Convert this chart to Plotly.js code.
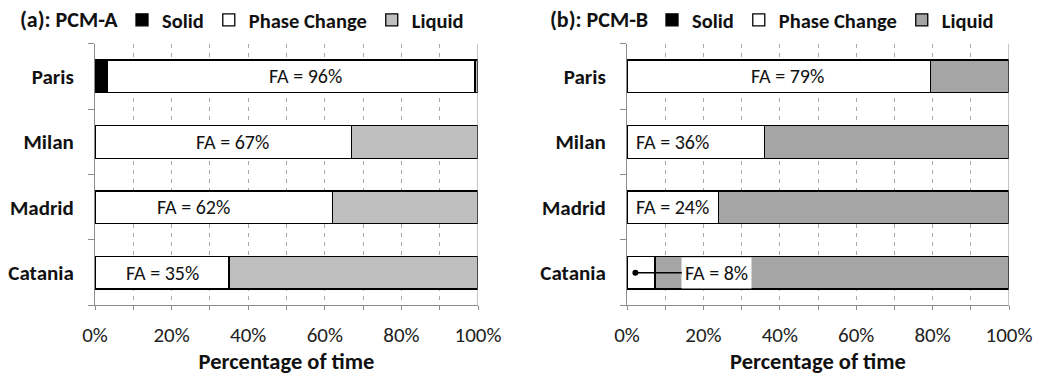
<!DOCTYPE html>
<html><head><meta charset="utf-8">
<script src="https://cdn.plot.ly/plotly-3.0.1.min.js"></script>
<style>html,body{margin:0;padding:0;background:#fff}#chart{width:1040px;height:375px}</style>
</head><body><div id="chart"></div>
<script>
// ---- data ----
const cities = ['Paris', 'Milan', 'Madrid', 'Catania'];
const seriesNames = ['Solid', 'Phase Change', 'Liquid'];
const aSolid  = [3.3, 0, 0, 0];
const aPhase  = [95.9, 67, 62, 35];
const aLiquid = [0.8, 33, 38, 65];
const bSolid  = [0, 0, 0, 0];
const bPhase  = [79.5, 36, 24, 7.3];
const bLiquid = [20.5, 64, 76, 92.7];
const aFA = [96, 67, 62, 35];
const bFA = [79, 36, 24, 8];
const panelTitles = ['(a): PCM-A', '(b): PCM-B'];
const xTitle = 'Percentage of time';

// ---- style ----
const FONT = 'Carlito, Lato, "Liberation Sans", sans-serif';
const colsA = ['#000000', '#ffffff', '#bfbfbf'];
const colsB = ['#000000', '#ffffff', '#a5a5a5'];
const axisGray = '#8c8c8c';

function mk(vals, name, color, xa, ya, leg) {
  return {
    type: 'bar', orientation: 'h', y: cities, x: vals, name: name,
    xaxis: xa, yaxis: ya, legend: leg, width: 0.5,
    marker: {color: color, line: {color: '#000', width: 1.3}},
    hoverinfo: 'skip'
  };
}
const traces = [
  mk(aSolid, seriesNames[0], colsA[0], 'x', 'y', 'legend'),
  mk(aPhase, seriesNames[1], colsA[1], 'x', 'y', 'legend'),
  mk(aLiquid, seriesNames[2], colsA[2], 'x', 'y', 'legend'),
  mk(bSolid, seriesNames[0], colsB[0], 'x2', 'y2', 'legend2'),
  mk(bPhase, seriesNames[1], colsB[1], 'x2', 'y2', 'legend2'),
  mk(bLiquid, seriesNames[2], colsB[2], 'x2', 'y2', 'legend2')
];

const yDom = [0.1867, 0.888];
function xax(dom, anchor) {
  return {
    domain: dom, anchor: anchor, range: [0, 100], dtick: 20, tick0: 0,
    ticksuffix: '%', ticks: 'outside', ticklen: 4, tickcolor: axisGray,
    showline: true, linecolor: axisGray, linewidth: 1, zeroline: false,
    showgrid: true, gridcolor: '#a6a6a6', griddash: '4px,5px', gridwidth: 1,
    minor: {dtick: 10, tick0: 0, ticks: 'outside', ticklen: 4, tickcolor: axisGray,
            showgrid: true, gridcolor: '#a6a6a6', griddash: '4px,5px', gridwidth: 1},
    tickfont: {family: FONT, size: 21, color: '#222'},
    ticklabelstandoff: 6,
    title: {text: xTitle, font: {family: FONT, size: 22.5, color: '#111', weight: 'bold'}, standoff: 10},
    automargin: false, fixedrange: true
  };
}
function yax(anchor) {
  return {
    domain: yDom, anchor: anchor, type: 'category',
    categoryorder: 'array', categoryarray: cities.slice().reverse(),
    tickson: 'boundaries', ticks: 'outside', ticklen: 6, tickcolor: axisGray,
    showline: true, linecolor: axisGray, linewidth: 1, showgrid: false,
    tickfont: {family: FONT, size: 21, color: '#111', weight: 'bold'},
    ticklabelstandoff: 16, automargin: false, fixedrange: true
  };
}

function faNote(xref, yref, city, val, xpos) {
  return {xref: xref, yref: yref, x: xpos, y: city, text: 'FA = ' + val + '%',
          showarrow: false, font: {family: FONT, size: 20, color: '#111'}};
}
const annotations = [
  {xref: 'paper', yref: 'paper', x: 18/1040, y: 1 - 18/375, xanchor: 'left', yanchor: 'middle',
   text: panelTitles[0], showarrow: false, font: {family: FONT, size: 22, color: '#111', weight: 'bold'}},
  {xref: 'paper', yref: 'paper', x: 548/1040, y: 1 - 18/375, xanchor: 'left', yanchor: 'middle',
   text: panelTitles[1], showarrow: false, font: {family: FONT, size: 22, color: '#111', weight: 'bold'}},
  faNote('x', 'y', cities[0], aFA[0], 55),
  faNote('x', 'y', cities[1], aFA[1], 36),
  faNote('x', 'y', cities[2], aFA[2], 25.6),
  faNote('x', 'y', cities[3], aFA[3], 17.5),
  faNote('x2', 'y2', cities[0], bFA[0], 42),
  faNote('x2', 'y2', cities[1], bFA[1], 12),
  faNote('x2', 'y2', cities[2], bFA[2], 12),
  {xref: 'x2', yref: 'y2', x: 2.2, y: cities[3], text: 'FA = ' + bFA[3] + '%',
   showarrow: true, axref: 'x2', ayref: 'y2', ax: 23.5, ay: cities[3],
   arrowhead: 6, arrowsize: 1, arrowwidth: 1.5, arrowcolor: '#000', startstandoff: 0,
   bgcolor: '#ffffff', borderpad: 3,
   font: {family: FONT, size: 20, color: '#111'}}
];

const legendBase = {
  orientation: 'h', yanchor: 'middle', xanchor: 'left', y: 1 - 18/375,
  bgcolor: 'rgba(0,0,0,0)', borderwidth: 0, traceorder: 'normal',
  font: {family: FONT, size: 20.5, color: '#111', weight: 'bold'},
  itemclick: false, itemdoubleclick: false
};

const layout = {
  width: 1040, height: 375,
  margin: {l: 0, r: 0, t: 0, b: 0},
  paper_bgcolor: '#fff', plot_bgcolor: 'rgba(0,0,0,0)',
  barmode: 'stack', bargap: 0.5,
  xaxis: xax([95/1040, 478/1040], 'y'),
  yaxis: yax('x'),
  xaxis2: xax([627/1040, 1009/1040], 'y2'),
  yaxis2: yax('x2'),
  legend: Object.assign({}, legendBase, {x: 122/1040}),
  legend2: Object.assign({}, legendBase, {x: 652/1040}),
  annotations: annotations,
  shapes: [
    {type: 'line', xref: 'x', yref: 'y domain', x0: 100, x1: 100, y0: 0, y1: 1, line: {color: axisGray, width: 1}},
    {type: 'line', xref: 'x2', yref: 'y2 domain', x0: 100, x1: 100, y0: 0, y1: 1, line: {color: axisGray, width: 1}}
  ],
  showlegend: true
};

Plotly.newPlot('chart', traces, layout, {displayModeBar: false, staticPlot: true});
</script>
</body></html>
